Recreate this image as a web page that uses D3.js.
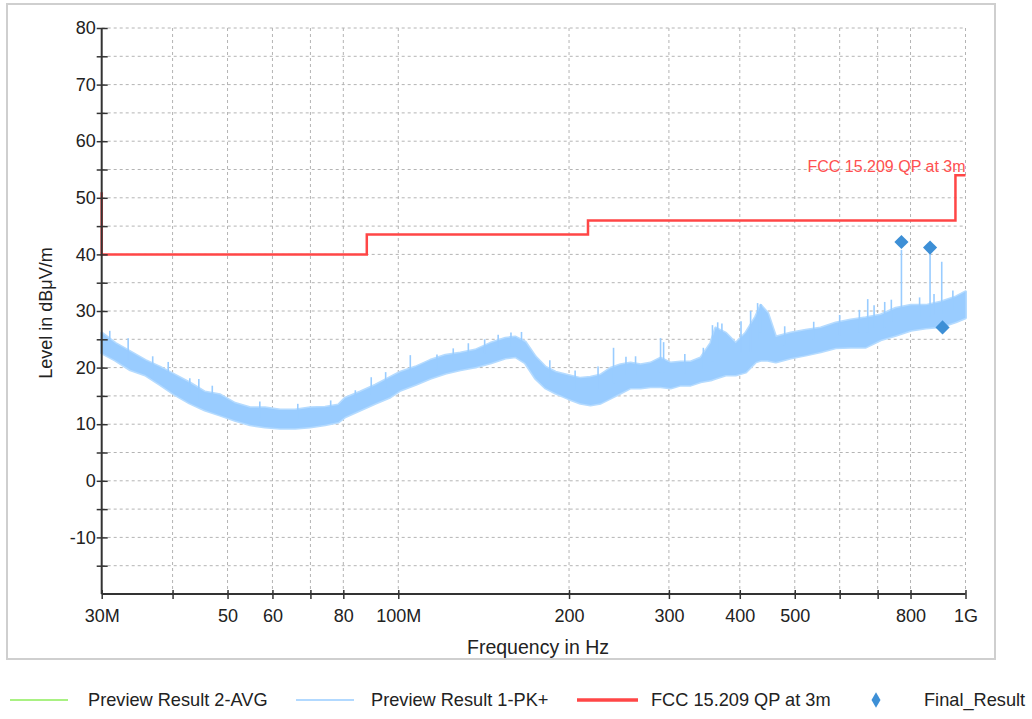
<!DOCTYPE html>
<html><head><meta charset="utf-8">
<script src="https://cdn.jsdelivr.net/npm/d3@7"></script>
<style>
body{margin:0;background:#fff;}
text{font-family:"Liberation Sans",Arial,sans-serif;}
</style></head>
<body><svg id="c" width="1032" height="719"></svg>
<script>
// ---------- data (frequency in MHz, level in dBµV/m) ----------
const pkFreq  = [30.0,31.7,33.7,35.8,38.0,40.4,42.9,45.6,48.5,51.5,54.8,58.2,61.9,65.8,69.9,74.3,78.4,80.6,85.7,91.1,96.8,100.8,107.2,113.9,121.1,128.7,136.7,145.3,154.5,160.9,167.5,174.5,181.7,189.3,199.6,209.5,218.2,227.3,236.7,246.5,256.7,267.4,278.5,290.0,302.1,314.6,327.7,341.2,355.4,362.7,377.7,393.4,409.7,426.7,435.5,448.1,462.9,491.9,522.8,555.6,590.5,627.5,666.9,708.8,753.8,801.1,851.5,905.0,961.9,1000];
const pkTop   = [26.1,24.3,22.8,21.3,20.1,18.7,17.3,15.7,15.2,13.7,12.9,12.9,12.5,12.5,12.9,13.0,13.4,14.6,15.7,16.9,18.3,19.2,20.1,21.3,22.2,22.6,23.1,24.3,25.2,25.4,24.5,21.9,20.1,19.2,18.6,18.1,18.3,18.7,19.9,20.5,20.8,20.5,20.8,21.7,20.8,21.0,21.0,21.7,24.3,27.0,26.1,24.3,26.1,29.0,31.0,29.6,25.4,26.1,26.6,27.0,27.9,28.4,28.8,29.3,30.5,31.0,31.0,31.6,32.5,33.4];
const pkFloor = [22.6,21.3,19.6,18.7,17.0,15.2,13.7,12.5,11.6,10.7,9.9,9.5,9.3,9.3,9.5,9.9,10.4,11.3,12.5,13.7,14.8,16.0,17.0,18.1,19.0,19.6,20.1,20.8,21.7,21.9,20.8,18.1,16.4,15.5,14.5,13.7,13.4,13.7,14.6,15.5,16.4,16.4,16.6,16.6,16.4,16.9,16.9,17.5,17.8,18.1,18.7,18.7,19.2,21.0,21.3,21.3,21.0,21.7,22.2,22.8,23.5,23.6,23.6,24.9,25.7,26.6,27.0,27.2,28.1,28.8];
// isolated spikes above the peak trace
const spikeFreq = [31.0,33.4,36.9,39.3,42.9,44.5,47.0,57.0,66.5,76.0,84.0,89.6,95.0,105.0,117,125,132.9,142,150,158,164.9,185,205,225,239.6,252,262,290.0,293.6,320,345,358,365.7,372,402,418,430,435.5,480,540,600,650,672.4,690,720.4,740,771,830,866,880,908,950];
const spikeTop  = [26.5,25.2,22.0,21.0,18.1,18.0,16.8,14.0,13.6,14.2,16.0,18.3,19.2,22.2,22.3,23.4,24.3,25.0,25.8,26.2,26.3,21.3,19.5,20.2,23.5,21.9,22.0,25.2,24.5,22.4,23.5,27.5,28.0,27.8,28.2,30.0,31.4,31.2,27.3,28.1,29.3,30.2,32.1,31.0,31.6,32.0,40.8,32.4,40.2,33.0,38.7,33.6];
// limit line FCC 15.209 QP at 3m
const limFreq = [30,30,88,88,216,216,960,960,1000];
const limVal  = [51,40,40,43.5,43.5,46,46,54,54];
// final results
const finFreq = [771,866,911];
const finVal  = [42.2,41.2,27.1];
// AVG preview (not visible in plot)
const avgFreq = [];
const avgVal  = [];
// ticks
const xTicks = [30,40,50,60,70,80,100,200,300,400,500,600,700,800,1000];
const xTickLabels = ["30M","","50","60","","80","100M","200","300","400","500","","","800","1G"];
const yMajor = [80,70,60,50,40,30,20,10,0,-10];
const yGrid = [80,75,70,65,60,55,50,45,40,35,30,25,20,15,10,5,0,-5,-10,-15];
const legendNames = ["Preview Result 2-AVG","Preview Result 1-PK+","FCC 15.209 QP at 3m","Final_Result"];

// ---------- drawing ----------
const svg = d3.select("#c");
const x = d3.scaleLog().domain([30,1000]).range([101.7,965.5]);
const y = d3.scaleLinear().domain([-20,80]).range([594,28]);
const BLUE="#99ccff", FUZZ="#b5dbff", RED="#ff4646", GREEN="#8cec5a", DIA="#3d8fd6", INK="#222";

svg.append("rect").attr("x",7).attr("y",4).attr("width",988).attr("height",655)
  .attr("fill","none").attr("stroke","#cfcfcf").attr("stroke-width",2);

// grid
const g = svg.append("g");
g.selectAll(".hg").data(yGrid).join("line")
  .attr("x1",x(30)).attr("x2",x(1000)).attr("y1",d=>y(d)).attr("y2",d=>y(d))
  .attr("stroke","#b4b4b4").attr("stroke-width",1).attr("stroke-dasharray","3,3");
g.selectAll(".vg").data(xTicks.slice(1)).join("line")
  .attr("x1",d=>x(d)).attr("x2",d=>x(d)).attr("y1",y(80)).attr("y2",y(-20))
  .attr("stroke","#b4b4b4").attr("stroke-width",1).attr("stroke-dasharray","3,3");

// peak band
const pk = pkFreq.map((f,i)=>({f,t:pkTop[i],b:pkFloor[i]}));
svg.append("path").datum(pk)
  .attr("d",d3.area().x(d=>x(d.f)).y0(d=>y(d.b)).y1(d=>y(d.t)))
  .attr("fill",BLUE).attr("stroke",FUZZ).attr("stroke-width",3).attr("stroke-linejoin","round");
svg.append("path").datum(pk)
  .attr("d",d3.area().x(d=>x(d.f)).y0(d=>y(d.b)).y1(d=>y(d.t)))
  .attr("fill",BLUE);
const sp = spikeFreq.map((f,i)=>({f,t:spikeTop[i]}));
const bandAt = f => { let k = d3.bisector(d=>d.f).center(pk,f); return (pk[k].t+pk[k].b)/2; };
svg.selectAll(".sp").data(sp).join("line")
  .attr("x1",d=>x(d.f)).attr("x2",d=>x(d.f)).attr("y1",d=>y(d.t)).attr("y2",d=>y(bandAt(d.f)))
  .attr("stroke",BLUE).attr("stroke-width",1.6);

// avg (empty)
svg.append("path").datum(avgFreq.map((f,i)=>[f,avgVal[i]]))
  .attr("d",d3.line().x(d=>x(d[0])).y(d=>y(d[1]))).attr("fill","none").attr("stroke",GREEN);

// limit line
svg.append("path").datum(limFreq.map((f,i)=>[f,limVal[i]]))
  .attr("d",d3.line().x(d=>x(d[0])).y(d=>y(d[1])))
  .attr("fill","none").attr("stroke",RED).attr("stroke-width",2.5);
svg.append("text").attr("x",x(1000)).attr("y",172).attr("text-anchor","end")
  .attr("font-size",16).attr("fill","#ff5050").text("FCC 15.209 QP at 3m");

// final results
svg.selectAll(".fr").data(finFreq.map((f,i)=>[f,finVal[i]])).join("path")
  .attr("d",d3.symbol(d3.symbolSquare,100)())
  .attr("transform",d=>`translate(${x(d[0])},${y(d[1])}) rotate(45)`)
  .attr("fill",DIA);

// axes
const yAx = svg.append("g").attr("transform",`translate(${x(30)},0)`)
  .call(d3.axisLeft(y).tickValues(yGrid).tickSize(6).tickFormat(d=>yMajor.includes(d)?d:""));
yAx.select(".domain").attr("d",`M0,${y(80)}V${y(-20)}`).attr("stroke","#333").attr("stroke-width",2);
yAx.selectAll(".tick line").attr("x1",-5).attr("x2",6).attr("stroke","#333").attr("stroke-width",1.5);
yAx.selectAll(".tick text").attr("x",-6).attr("font-size",18).attr("fill",INK)
  .attr("font-family","Liberation Sans, Arial, sans-serif");

const xAx = svg.append("g").attr("transform",`translate(0,${y(-20)})`)
  .call(d3.axisBottom(x).tickValues(xTicks).tickSize(5).tickFormat((d,i)=>xTickLabels[i]));
xAx.select(".domain").attr("d",`M${x(30)},0H${x(1000)}`).attr("stroke","#333").attr("stroke-width",2);
xAx.selectAll(".tick line").attr("y1",-4).attr("y2",5).attr("stroke","#333").attr("stroke-width",1.5);
xAx.selectAll(".tick text").attr("y",15).attr("font-size",18).attr("fill",INK)
  .attr("font-family","Liberation Sans, Arial, sans-serif");

svg.append("text").attr("x",538).attr("y",654).attr("text-anchor","middle")
  .attr("font-size",19.5).attr("fill",INK).text("Frequency in Hz");
svg.append("text").attr("transform","translate(52,313) rotate(-90)").attr("text-anchor","middle")
  .attr("font-size",18).attr("fill",INK).text("Level in dBμV/m");

// legend
const lg = svg.append("g");
const lx = [[10,68,88],[296,354,371],[577,638,651],[876,876,924]];
const lcol = [GREEN,BLUE,RED,DIA];
const lw = [1.5,1.5,3.5,0];
legendNames.forEach((n,i)=>{
  if(i<3) lg.append("line").attr("x1",lx[i][0]).attr("x2",lx[i][1]).attr("y1",700).attr("y2",700)
    .attr("stroke",lcol[i]).attr("stroke-width",lw[i]);
  else lg.append("path").attr("d",d3.symbol(d3.symbolDiamond,70)()).attr("transform","translate(876,700)").attr("fill",DIA);
  lg.append("text").attr("x",lx[i][2]).attr("y",706).attr("font-size",18.2).attr("fill",INK).text(n);
});
</script></body></html>
